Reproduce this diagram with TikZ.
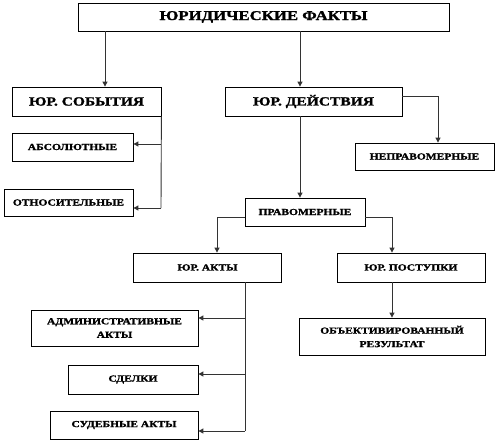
\documentclass[tikz,border=0pt]{standalone}
\usepackage{fontspec}
\setmainfont{Liberation Serif}
\newfontfamily\wf[FakeStretch=1.25,FakeBold=1.5]{Liberation Serif}
\usetikzlibrary{arrows.meta}
\tikzset{
  box/.style={draw=black, line width=0.8pt, fill=white, inner sep=0pt, align=center, font=\wf\bfseries\fontsize{9.2}{13}\selectfont},
  big/.style={font=\wf\bfseries\fontsize{13.4}{15}\selectfont},
  mid/.style={font=\wf\bfseries\fontsize{12.4}{14}\selectfont},
  sml/.style={font=\wf\bfseries\fontsize{9.2}{13.5}\selectfont},
  conn/.style={draw=black!80, line width=0.9pt},
  arr/.style={conn, -{Triangle[length=5pt,width=5pt]}},
}
\begin{document}
\begin{tikzpicture}[x=1pt,y=-1pt]
\useasboundingbox (0,0) rectangle (498,442);
\node[box,big,minimum width=371pt,minimum height=28pt] (top) at (263.5,17) {ЮРИДИЧЕСКИЕ ФАКТЫ};
\node[box,mid,minimum width=149pt,minimum height=29pt] (sob) at (86.5,101.5) {ЮР. СОБЫТИЯ};
\node[box,mid,minimum width=177pt,minimum height=29pt] (dei) at (313.5,101.5) {ЮР. ДЕЙСТВИЯ};
\node[box,sml,minimum width=139pt,minimum height=27pt] (nepr) at (424.5,156.5) {НЕПРАВОМЕРНЫЕ};
\node[box,sml,minimum width=121pt,minimum height=28pt] (abs) at (72.5,147) {АБСОЛЮТНЫЕ};
\node[box,sml,minimum width=129pt,minimum height=27pt] (otn) at (68.5,202.5) {ОТНОСИТЕЛЬНЫЕ};
\node[box,sml,minimum width=120pt,minimum height=28pt] (prav) at (305,212) {ПРАВОМЕРНЫЕ};
\node[box,sml,minimum width=148pt,minimum height=29pt] (akt) at (207.5,267.5) {ЮР. АКТЫ};
\node[box,sml,minimum width=148pt,minimum height=29pt] (post) at (411,267.5) {ЮР. ПОСТУПКИ};
\node[box,sml,minimum width=167pt,minimum height=36pt] (adm) at (114.5,328) {АДМИНИСТРАТИВНЫЕ\\АКТЫ};
\node[box,sml,minimum width=130pt,minimum height=29pt] (sdel) at (133,379.5) {СДЕЛКИ};
\node[box,sml,minimum width=148pt,minimum height=28pt] (sud) at (124,425) {СУДЕБНЫЕ АКТЫ};
\node[box,sml,minimum width=186pt,minimum height=37pt] (obj) at (392,336.5) {ОБЪЕКТИВИРОВАННЫЙ\\РЕЗУЛЬТАТ};
% coordinates for line positions
\coordinate (xa) at (105,0);
\coordinate (xb) at (300,0);
\coordinate (xc) at (438,96);
\coordinate (ya) at (0,144);
\coordinate (yb) at (161,208);
\coordinate (pl) at (217,217);
\coordinate (pr) at (392,217);
\coordinate (xk) at (245,0);
\coordinate (y1) at (0,318);
\coordinate (y2) at (0,374);
\coordinate (y3) at (245,431);
% connectors
\draw[arr] (top.south -| xa) -- (sob.north -| xa);
\draw[arr] (top.south -| xb) -- (dei.north -| xb);
\draw[arr] (dei.east |- xc) -- (xc) -- (nepr.north -| xc);
\draw[conn] (sob.south east) -- (yb);
\draw[arr] (yb |- ya) -- (abs.east |- ya);
\draw[arr] (yb) -- (otn.east |- yb);
\draw[arr] (dei.south -| xb) -- (prav.north -| xb);
\draw[arr] (prav.west |- pl) -- (pl) -- (akt.north -| pl);
\draw[arr] (prav.east |- pr) -- (pr) -- (post.north -| pr);
\draw[conn] (akt.south -| xk) -- (y3);
\draw[arr] (y3 |- y1) -- (adm.east |- y1);
\draw[arr] (y3 |- y2) -- (sdel.east |- y2);
\draw[arr] (y3) -- (sud.east |- y3);
\draw[arr] (post.south -| pr) -- (obj.north -| pr);
\end{tikzpicture}
\end{document}
